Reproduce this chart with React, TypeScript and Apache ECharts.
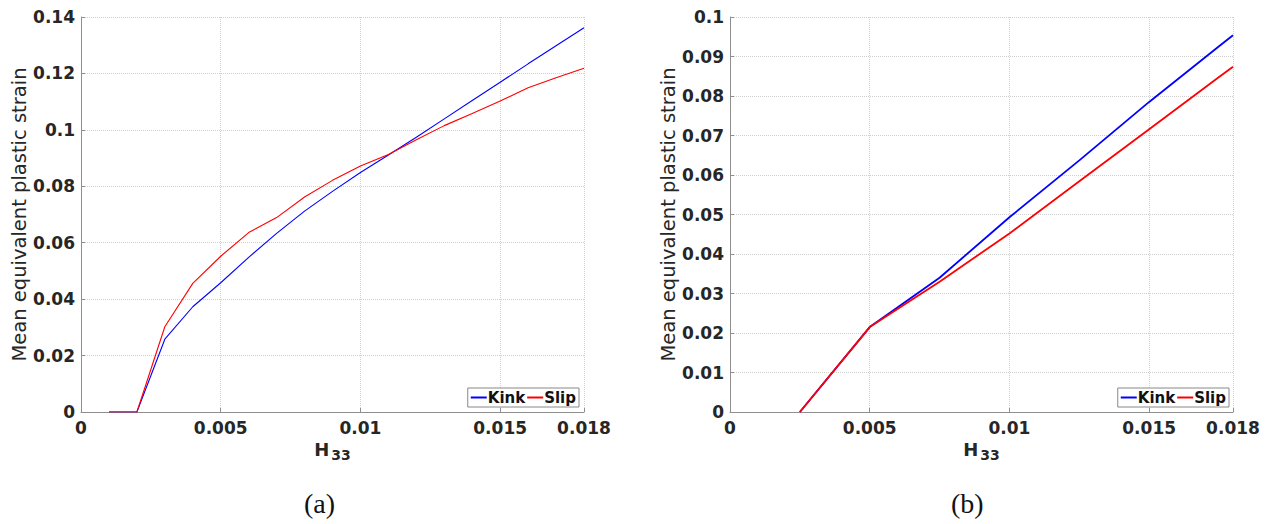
import React, { useEffect, useRef } from "react";
import * as echarts from "echarts";

// ---- Data (a) ----
const hA = [0.001, 0.002, 0.003, 0.004, 0.005, 0.006, 0.007, 0.008, 0.009, 0.01, 0.011, 0.012, 0.013, 0.014, 0.015, 0.016, 0.017, 0.018];
const kinkA = [0, 0, 0.0258, 0.0373, 0.0458, 0.0548, 0.0633, 0.0712, 0.0782, 0.0849, 0.0911, 0.0974, 0.1039, 0.1104, 0.1169, 0.1234, 0.1298, 0.1362];
const slipA = [0, 0, 0.0302, 0.0456, 0.0552, 0.0636, 0.0689, 0.0762, 0.0821, 0.0872, 0.0913, 0.0965, 0.1015, 0.1058, 0.1102, 0.1149, 0.1185, 0.1218];

// ---- Data (b) ----
const hB = [0.0025, 0.005, 0.0075, 0.01, 0.0125, 0.015, 0.0175, 0.018];
const kinkB = [0, 0.0215, 0.034, 0.0493, 0.0637, 0.0785, 0.0926, 0.0954];
const slipB = [0, 0.0215, 0.033, 0.0452, 0.0584, 0.0716, 0.0848, 0.0874];

const xTickLabels = [0, 0.005, 0.01, 0.015, 0.018];
const seriesNames = ["Kink", "Slip"];
const yLabel = "Mean equivalent plastic strain";
const captions = ["(a)", "(b)"];

const TXT = "#262626";
const AXIS = "#8f8f8f";
const GRIDC = "#d0d0d0";
const FONT = "DejaVu Sans";

function zip(xs: number[], ys: number[]) {
  return xs.map((x, i) => [x, ys[i]]);
}

export default function App() {
  const ref = useRef<HTMLDivElement>(null);
  useEffect(() => {
    document.body.style.margin = "0";
    if (!ref.current) return;
    const chart = echarts.init(ref.current, undefined, { renderer: "svg" });

    const mkX = (gridIndex: number) => ({
      type: "value",
      gridIndex,
      min: 0,
      max: 0.018,
      interval: 0.005,
      name: "{h|H}{s|33}",
      nameLocation: "middle",
      nameGap: 28,
      nameTextStyle: {
        rich: {
          h: { fontSize: 18, fontWeight: "bold", fontFamily: FONT, color: TXT, padding: [0, 2, 10, 0] },
          s: { fontSize: 14, fontWeight: "bold", fontFamily: FONT, color: TXT },
        },
      },
      axisLine: { show: true, onZero: false, lineStyle: { color: AXIS, width: 1 } },
      axisTick: { show: true, inside: true, length: 4, lineStyle: { color: AXIS }, customValues: xTickLabels },
      axisLabel: {
        customValues: xTickLabels,
        color: TXT,
        fontSize: 17,
        fontWeight: "bold",
        fontFamily: FONT,
        margin: 7,
        formatter: (v: number) => String(+v.toFixed(4)),
      },
      splitLine: { show: true, lineStyle: { color: GRIDC, type: [1, 1], width: 1 } },
    });

    const mkY = (gridIndex: number, max: number, interval: number) => ({
      type: "value",
      gridIndex,
      min: 0,
      max,
      interval,
      name: yLabel,
      nameLocation: "middle",
      nameGap: 51,
      nameTextStyle: { fontSize: 19.5, color: TXT, fontFamily: FONT },
      axisLine: { show: true, lineStyle: { color: AXIS, width: 1 } },
      axisTick: { show: true, inside: true, length: 4, lineStyle: { color: AXIS } },
      axisLabel: {
        color: TXT,
        fontSize: 17,
        fontWeight: "bold",
        fontFamily: FONT,
        margin: 6,
        formatter: (v: number) => String(+v.toFixed(4)),
      },
      splitLine: { show: true, lineStyle: { color: GRIDC, type: [1, 1], width: 1 } },
    });

    const mkLegend = (right: number) => ({
      show: true,
      data: seriesNames,
      orient: "horizontal",
      right,
      bottom: 117,
      itemWidth: 16,
      itemHeight: 2,
      itemGap: 2,
      icon: "rect",
      padding: [2, 3, 2, 3],
      borderColor: "#888",
      borderWidth: 1,
      backgroundColor: "#fff",
      textStyle: { fontSize: 15, fontWeight: "bold", fontFamily: FONT, color: "#111", padding: [0, 0, 0, -4] },
      selectedMode: false,
    });

    chart.setOption({
      animation: false,
      backgroundColor: "#fff",
      grid: [
        { left: 81, top: 17, width: 503, height: 395, containLabel: false },
        { left: 730, top: 17, width: 503, height: 395, containLabel: false },
      ],
      xAxis: [mkX(0), mkX(1)],
      yAxis: [mkY(0, 0.14, 0.02), mkY(1, 0.1, 0.01)],
      legend: [mkLegend(693), mkLegend(43)],
      series: [
        { name: "Kink", type: "line", xAxisIndex: 0, yAxisIndex: 0, data: zip(hA, kinkA), showSymbol: false, symbol: "none", lineStyle: { color: "#0000ff", width: 1.1 }, itemStyle: { color: "#0000ff" } },
        { name: "Slip", type: "line", xAxisIndex: 0, yAxisIndex: 0, data: zip(hA, slipA), showSymbol: false, symbol: "none", lineStyle: { color: "#ff0000", width: 1.1 }, itemStyle: { color: "#ff0000" } },
        { name: "Kink", type: "line", xAxisIndex: 1, yAxisIndex: 1, data: zip(hB, kinkB), showSymbol: false, symbol: "none", lineStyle: { color: "#0000ff", width: 1.8 }, itemStyle: { color: "#0000ff" } },
        { name: "Slip", type: "line", xAxisIndex: 1, yAxisIndex: 1, data: zip(hB, slipB), showSymbol: false, symbol: "none", lineStyle: { color: "#ff0000", width: 1.8 }, itemStyle: { color: "#ff0000" } },
      ],
      graphic: [
        { type: "text", left: 304, top: 489, style: { text: captions[0], fontSize: 28, fontFamily: "Liberation Serif", fill: "#111" } },
        { type: "text", left: 951, top: 489, style: { text: captions[1], fontSize: 28, fontFamily: "Liberation Serif", fill: "#111" } },
      ],
    });
    return () => chart.dispose();
  }, []);
  return <div ref={ref} style={{ width: 1272, height: 524 }} />;
}
